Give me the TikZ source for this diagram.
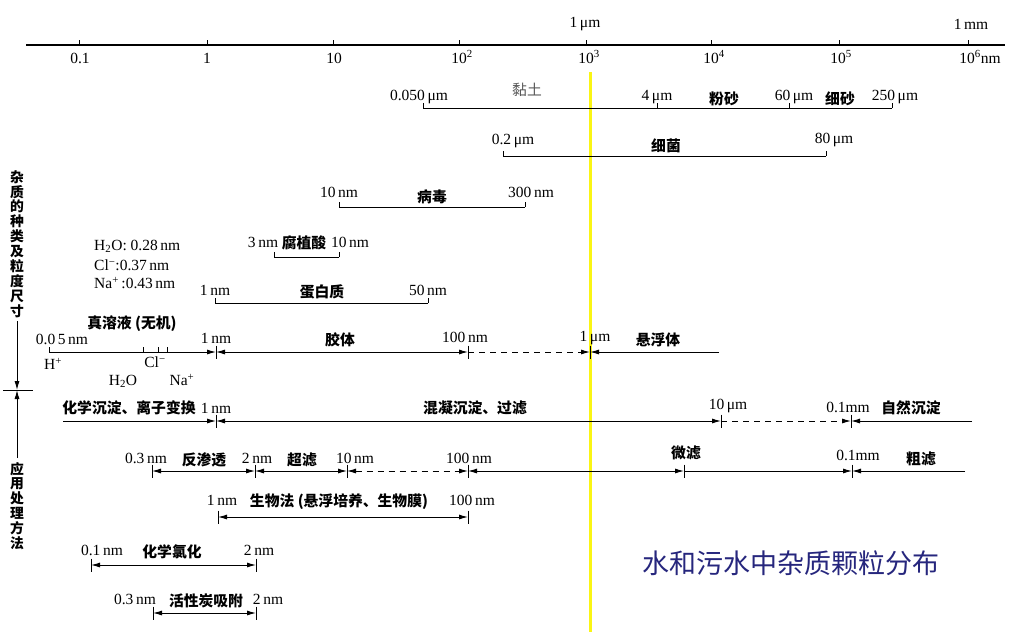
\documentclass[tikz,border=0pt]{standalone}
\usepackage{fontspec}
\setmainfont{Liberation Serif}
\newfontfamily\cjk{Noto Sans CJK SC}
\usetikzlibrary{arrows.meta}
\definecolor{titleblue}{RGB}{38,38,125}
\definecolor{hiyellow}{RGB}{250,245,20}
\newcommand\fulltick[1]{\draw[tickline] ([yshift=6.5pt]#1) -- ([yshift=-6.5pt]#1);}
\newcommand\uptick{}
\renewcommand\uptick[1]{\draw[tickline] (#1) -- ([yshift=5pt]#1);}
\begin{document}
\begin{tikzpicture}[x=1pt,y=-1pt,
  num/.style={font=\fontsize{15.5}{17}\selectfont, inner sep=0pt},
  zh/.style={font=\cjk\bfseries\fontsize{14.8}{16}\selectfont, inner sep=0pt},
  zhlight/.style={font=\cjk\fontsize{14.8}{16}\selectfont, inner sep=0pt, text=black!65},
  vtext/.style={font=\cjk\bfseries\fontsize{13.8}{14.9}\selectfont, inner sep=0pt, align=center},
  rowline/.style={line width=1pt},
  tickline/.style={line width=1pt},
  arrs/.style={rowline,-{Latex[length=9pt,width=5pt]}},
  arrb/.style={rowline,{Latex[length=9pt,width=5pt]}-{Latex[length=9pt,width=5pt]}},
  dash6/.style={dash pattern=on 6pt off 5pt}]
\fill[white] (0,0) rectangle (1017,640);
\useasboundingbox (0,0) rectangle (1017,640);

% ---------- axis ----------
\coordinate (ax0) at (26,45);
\coordinate (ax1) at (1005,45);
\draw[line width=1.4pt] (ax0) -- (ax1);
\foreach \n/\xx in {t0/79,t1/207,t2/333,t3/459,t4/586,t5/711,t6/839,t7/968}{
  \coordinate (\n) at (\xx,45);
  \draw[tickline] (\n) -- ([yshift=5pt]\n);
}
\node[num] (l0) at (80,58) {0.1};
\node[num] (l1) at (207,58) {1};
\node[num] (l2) at (334,58) {10};
\node[num] (l3) at (462,57) {10\textsuperscript{2}};
\node[num] (l4) at (589,57) {10\textsuperscript{3}};
\node[num] (l5) at (714,57) {10\textsuperscript{4}};
\node[num] (l6) at (841,57) {10\textsuperscript{5}};
\node[num] (l7) at (980,57) {10\textsuperscript{6}nm};
\node[num] (lum) at (585,24) {1\,μm};
\node[num] (lmm) at (971,24) {1\,mm};

% ---------- yellow marker ----------
\coordinate (y0) at (590,72);
\coordinate (y1) at (590,632);
\draw[hiyellow, line width=3pt] (y0) -- (y1);

% ---------- clay / silt / sand ----------
\coordinate (c0) at (423,108);
\coordinate (c1) at (657,108);
\coordinate (c2) at (789,108);
\coordinate (c3) at (892,108);
\draw[rowline] (c0) -- (c3);
\uptick{c0}\uptick{c1}\uptick{c2}\uptick{c3}
\node[num] (cl0) at (419,97) {0.050\,μm};
\node[zhlight] (cl1) at (527,90) {黏土};
\node[num] (cl2) at (657,97) {4\,μm};
\node[zh] (cl3) at (724,99) {粉砂};
\node[num] (cl4) at (794,97) {60\,μm};
\node[zh] (cl5) at (840,99) {细砂};
\node[num] (cl6) at (895,97) {250\,μm};

% ---------- bacteria ----------
\coordinate (b0) at (503,156);
\coordinate (b1) at (826,156);
\draw[rowline] (b0) -- (b1);
\uptick{b0}\uptick{b1}
\node[num] (bl0) at (513,141) {0.2\,μm};
\node[zh] (bl1) at (666,146) {细菌};
\node[num] (bl2) at (834,140) {80\,μm};

% ---------- virus ----------
\coordinate (v0) at (339,207);
\coordinate (v1) at (525,207);
\draw[rowline] (v0) -- (v1);
\uptick{v0}\uptick{v1}
\node[num] (vl0) at (339,192) {10\,nm};
\node[zh] (vl1) at (432,197) {病毒};
\node[num] (vl2) at (531,192) {300\,nm};

% ---------- humic acid ----------
\coordinate (h0) at (274,257);
\coordinate (h1) at (339,257);
\draw[rowline] (h0) -- (h1);
\uptick{h0}\uptick{h1}
\node[num] (hl0) at (263,242) {3\,nm};
\node[zh] (hl1) at (304,243) {腐植酸};
\node[num] (hl2) at (350,242) {10\,nm};

% ---------- ions ----------
\node[num, anchor=west] (i0) at (94,246) {H\textsubscript{2}O: 0.28\,nm};
\node[num, anchor=west] (i1) at (94,265) {Cl\textsuperscript{−}:0.37\,nm};
\node[num, anchor=west] (i2) at (94,283) {Na\textsuperscript{+}\,:0.43\,nm};

% ---------- protein ----------
\coordinate (p0) at (215,303);
\coordinate (p1) at (428,303);
\draw[rowline] (p0) -- (p1);
\uptick{p0}\uptick{p1}
\node[num] (pl0) at (215,290) {1\,nm};
\node[zh] (pl1) at (322,292) {蛋白质};
\node[num] (pl2) at (428,290) {50\,nm};

% ---------- true solution / colloid / suspension ----------
\coordinate (k0) at (49,352);
\coordinate (kh) at (143,352);
\coordinate (kc) at (158,352);
\coordinate (kn) at (167,352);
\coordinate (k1) at (216,352);
\coordinate (k2) at (468,352);
\coordinate (k3) at (590,352);
\coordinate (k4) at (719,352);
\draw[arrs] (k0) -- (k1);
\draw[arrb] (k1) -- (k2);
\draw[arrs,dash6] (k2) -- (k3);
\draw[arrs] (k4) -- (k3);
\uptick{k0}\uptick{kh}\uptick{kc}\uptick{kn}
\fulltick{k1}\fulltick{k2}\fulltick{k3}
\node[zh] (kl0) at (132,324) {真溶液 (无机)};
\node[num] (kl1) at (62,339) {0.0\,5\,nm};
\node[num] (kl2) at (216,338) {1\,nm};
\node[zh] (kl3) at (340,340) {胶体};
\node[num] (kl4) at (465,337) {100\,nm};
\node[num] (kl5) at (595,338) {1\,μm};
\node[zh] (kl6) at (658,340) {悬浮体};
\node[num] (kl7) at (53,364) {H\textsuperscript{+}};
\node[num] (kl8) at (155,362) {Cl\textsuperscript{−}};
\node[num] (kl9) at (123,381) {H\textsubscript{2}O};
\node[num] (kl10) at (182,380) {Na\textsuperscript{+}};

% ---------- left indicator ----------
\node[vtext] (vt1) at (17,244) {杂\\质\\的\\种\\类\\及\\粒\\度\\尺\\寸};
\node[vtext] (vt2) at (17,506) {应\\用\\处\\理\\方\\法};
\coordinate (x0) at (3,390);
\coordinate (x1) at (33,390);
\coordinate (xm) at (17,390);
\coordinate (xt) at (17,321);
\coordinate (xb) at (17,458);
\draw[rowline] (x0) -- (x1);
\draw[arrs] (xt) -- (xm);
\draw[arrs] (xb) -- (xm);

% ---------- precipitation / coagulation / settling ----------
\coordinate (g0) at (63,421);
\coordinate (g1) at (216,421);
\coordinate (g2) at (721,421);
\coordinate (g3) at (851,421);
\coordinate (g4) at (972,421);
\draw[arrs] (g0) -- (g1);
\draw[arrb] (g1) -- (g2);
\draw[arrs,dash6] (g2) -- (g3);
\draw[arrs] (g4) -- (g3);
\fulltick{g1}\fulltick{g2}\fulltick{g3}
\node[zh] (gl0) at (129,408) {化学沉淀、离子变换};
\node[num] (gl1) at (216,408) {1\,nm};
\node[zh] (gl2) at (475,408) {混凝沉淀、过滤};
\node[num] (gl3) at (728,406) {10\,μm};
\node[num] (gl4) at (848,407) {0.1mm};
\node[zh] (gl5) at (911,408) {自然沉淀};

% ---------- membranes / filtration ----------
\coordinate (m0) at (152,471);
\coordinate (m1) at (255,471);
\coordinate (m2) at (347,471);
\coordinate (m3) at (468,471);
\coordinate (m4) at (684,471);
\coordinate (m5) at (852,471);
\coordinate (m6) at (965,471);
\draw[arrb] (m0) -- (m1);
\draw[arrb] (m1) -- (m2);
\draw[arrb,dash6] (m2) -- (m3);
\draw[arrb] (m3) -- (m4);
\draw[arrs] (m4) -- (m5);
\draw[arrs] (m6) -- (m5);
\fulltick{m0}\fulltick{m1}\fulltick{m2}\fulltick{m3}\fulltick{m4}\fulltick{m5}
\node[num] (ml0) at (146,458) {0.3\,nm};
\node[zh] (ml1) at (204,460) {反渗透};
\node[num] (ml2) at (257,458) {2\,nm};
\node[zh] (ml3) at (302,460) {超滤};
\node[num] (ml4) at (355,458) {10\,nm};
\node[num] (ml5) at (469,458) {100\,nm};
\node[zh] (ml6) at (686,453) {微滤};
\node[num] (ml7) at (858,455) {0.1mm};
\node[zh] (ml8) at (921,459) {粗滤};

% ---------- biological ----------
\coordinate (bi0) at (218,517);
\coordinate (bi1) at (468,517);
\draw[arrb] (bi0) -- (bi1);
\fulltick{bi0}\fulltick{bi1}
\node[num] (bil0) at (222,500) {1\,nm};
\node[zh] (bil1) at (339,502) {生物法 (悬浮培养、生物膜)};
\node[num] (bil2) at (472,500) {100\,nm};

% ---------- chlorination ----------
\coordinate (q0) at (91,565);
\coordinate (q1) at (256,565);
\draw[arrb] (q0) -- (q1);
\fulltick{q0}\fulltick{q1}
\node[num] (ql0) at (102,550) {0.1\,nm};
\node[zh] (ql1) at (172,552) {化学氯化};
\node[num] (ql2) at (259,550) {2\,nm};

% ---------- activated carbon ----------
\coordinate (a0) at (153,613);
\coordinate (a1) at (256,613);
\draw[arrb] (a0) -- (a1);
\fulltick{a0}\fulltick{a1}
\node[num] (al0) at (135,599) {0.3\,nm};
\node[zh] (al1) at (206,601) {活性炭吸附};
\node[num] (al2) at (268,599) {2\,nm};

% ---------- title ----------
\node[font=\cjk\fontsize{27}{30}\selectfont, text=titleblue, inner sep=0pt] (title) at (791,563) {水和污水中杂质颗粒分布};
\end{tikzpicture}
\end{document}
